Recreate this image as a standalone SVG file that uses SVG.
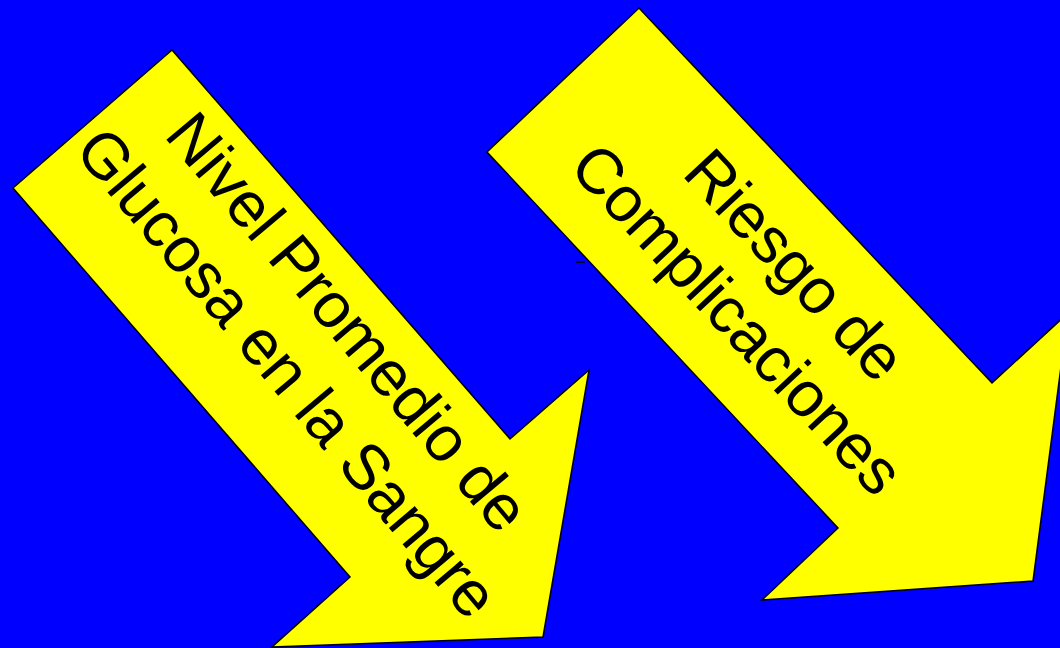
<svg xmlns="http://www.w3.org/2000/svg" width="1060" height="648" viewBox="0 0 1060 648">
<style>
.arrow{fill:#FFFF00;stroke:#000;stroke-width:1.5;stroke-linejoin:miter}
.lbl{font-family:"Liberation Sans",Arial,sans-serif;font-size:64px;fill:#000;text-anchor:middle}
</style>
<rect x="0" y="0" width="1060" height="648" fill="#0000FF"/>
<g id="arrow-glucosa">
<polygon class="arrow" points="172,50 510,439 589,370 543,637 272,647 350,577 13,188"/>
<g transform="translate(331,336) rotate(50)">
<text class="lbl" x="0" y="0">Nivel Promedio de</text>
<text class="lbl" x="0" y="79">Glucosa en la Sangre</text>
</g>
</g>
<g id="arrow-riesgo">
<polygon class="arrow" points="639,8 992,383 1068,313 1033,581 762,600 838,528 487,152"/>
<g transform="translate(779,280) rotate(47)">
<text class="lbl" x="0" y="0">Riesgo de</text>
<text class="lbl" x="0" y="79">Complicaciones</text>
</g>
</g>
<g id="connectors">
<line x1="576" y1="262" x2="585" y2="262" stroke="#000" stroke-width="1.5"/>
</g>
</svg>
